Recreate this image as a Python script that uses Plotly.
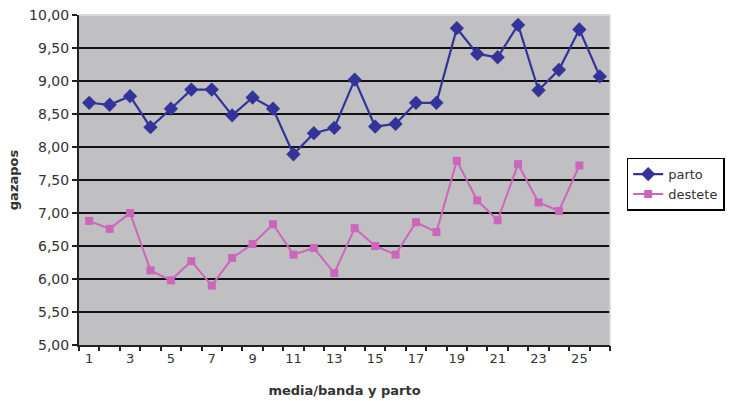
import plotly.graph_objects as go

categories = list(range(1, 27))
parto = [8.67, 8.64, 8.77, 8.30, 8.58, 8.87, 8.87, 8.48, 8.75, 8.58,
         7.89, 8.21, 8.29, 9.02, 8.31, 8.35, 8.67, 8.67, 9.80, 9.41,
         9.36, 9.85, 8.86, 9.17, 9.78, 9.07]
destete = [6.88, 6.76, 7.00, 6.13, 5.98, 6.27, 5.90, 6.32, 6.53, 6.83,
           6.37, 6.47, 6.09, 6.77, 6.50, 6.37, 6.86, 6.71, 7.79, 7.19,
           6.89, 7.74, 7.16, 7.03, 7.72]
y_ticks = [5.0, 5.5, 6.0, 6.5, 7.0, 7.5, 8.0, 8.5, 9.0, 9.5, 10.0]
x_ticks = list(range(1, 26, 2))
x_boundaries = [c - 0.5 for c in categories] + [categories[-1] + 0.5]

FONT = "DejaVu Sans"
TXT = "#333333"

fig = go.Figure()
fig.add_trace(go.Scatter(
    x=categories, y=parto, name="parto", mode="lines+markers",
    line=dict(color="#333399", width=2.2),
    marker=dict(symbol="diamond", size=11, color="#333399"),
))
fig.add_trace(go.Scatter(
    x=categories[:len(destete)], y=destete, name="destete", mode="lines+markers",
    line=dict(color="#cc66bb", width=2),
    marker=dict(symbol="square", size=8, color="#cc66bb"),
))
fig.add_trace(go.Scatter(x=[], y=[], xaxis="x2", showlegend=False, hoverinfo="skip"))

fig.update_layout(
    width=739, height=401,
    margin=dict(l=79, r=129, t=15, b=56),
    paper_bgcolor="white",
    plot_bgcolor="#c0c0c2",
    separators=", ",
    font=dict(family=FONT, size=13, color=TXT),
    showlegend=True,
    legend=dict(
        xref="container", yref="container",
        x=0.848, y=0.607, xanchor="left", yanchor="top",
        bgcolor="white", bordercolor="black", borderwidth=1.5,
        font=dict(family=FONT, size=13, color=TXT),
        tracegroupgap=0, itemwidth=30,
    ),
    xaxis=dict(
        range=[0.5, 26.5], automargin=False,
        tickmode="array", tickvals=x_ticks,
        ticks="", showgrid=False,
        showline=True, linecolor="#222222", linewidth=2,
        tickfont=dict(family=FONT, size=13, color=TXT),
        title=dict(text="<b>media/banda y parto</b>", standoff=21,
                   font=dict(family=FONT, size=13, color=TXT)),
        zeroline=False,
    ),
    xaxis2=dict(
        range=[0.5, 26.5], overlaying="x", side="bottom", automargin=False,
        tickmode="array", tickvals=x_boundaries, showticklabels=False,
        ticks="outside", ticklen=5, tickwidth=2, tickcolor="#222222",
        showgrid=False, showline=False, zeroline=False,
    ),
    yaxis=dict(
        range=[5, 10], automargin=False,
        tickmode="array", tickvals=y_ticks, tickformat=".2f",
        ticks="outside", ticklen=5, tickwidth=2, tickcolor="#222222",
        showgrid=True, gridcolor="#111111", gridwidth=2,
        showline=True, linecolor="#222222", linewidth=2,
        tickfont=dict(family=FONT, size=14, color=TXT),
        title=dict(text="<b>gazapos</b>", standoff=8,
                   font=dict(family=FONT, size=13, color=TXT)),
        zeroline=False,
    ),
    shapes=[dict(type="line", xref="paper", yref="paper", x0=0, x1=1, y0=1, y1=1,
                 line=dict(color="#d8d8d8", width=2), layer="above"),
            dict(type="line", xref="paper", yref="paper", x0=1, x1=1, y0=0, y1=1,
                 line=dict(color="#d8d8d8", width=1.5), layer="above")],
)

fig.write_html("out.html", config={"displayModeBar": False},
               post_script="document.body.style.margin='0';")
